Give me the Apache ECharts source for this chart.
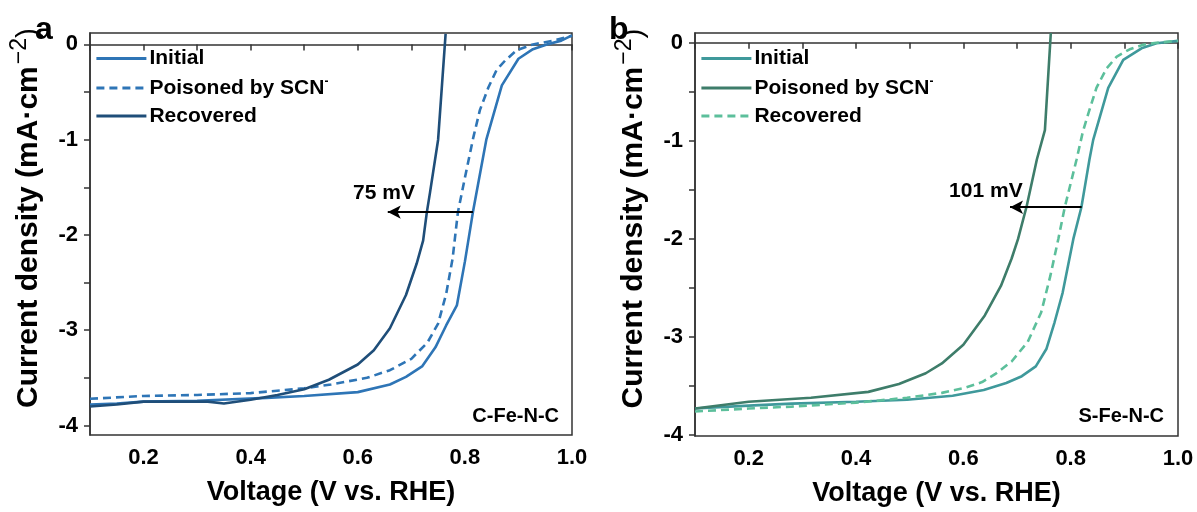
<!DOCTYPE html>
<html><head><meta charset="utf-8">
<script src="https://cdn.jsdelivr.net/npm/echarts@6/dist/echarts.min.js"></script>
<style>html,body{margin:0;padding:0;background:#fff}#c{width:1197px;height:512px}</style>
</head><body><div id="c"></div>
<script>
// ---------- DATA ----------
const initialA = [[0.1,-3.78],[0.15,-3.77],[0.2,-3.75],[0.3,-3.74],[0.43,-3.71],[0.5,-3.69],[0.6,-3.65],[0.66,-3.57],[0.69,-3.49],[0.72,-3.38],[0.745,-3.18],[0.765,-2.95],[0.785,-2.74],[0.8,-2.28],[0.815,-1.76],[0.84,-1.0],[0.869,-0.43],[0.9,-0.15],[0.927,-0.05],[0.953,0.0],[0.98,0.04],[1.0,0.095]];
const poisonedA = [[0.1,-3.72],[0.2,-3.69],[0.3,-3.68],[0.4,-3.66],[0.5,-3.61],[0.55,-3.57],[0.617,-3.5],[0.66,-3.42],[0.7,-3.3],[0.73,-3.13],[0.75,-2.93],[0.765,-2.62],[0.777,-2.25],[0.787,-1.76],[0.8,-1.4],[0.816,-0.97],[0.828,-0.69],[0.844,-0.45],[0.859,-0.27],[0.875,-0.17],[0.897,-0.06],[0.927,0.0],[0.965,0.04],[1.0,0.09]];
const recoveredA = [[0.1,-3.8],[0.15,-3.78],[0.2,-3.75],[0.25,-3.75],[0.32,-3.75],[0.35,-3.77],[0.4,-3.73],[0.45,-3.68],[0.5,-3.62],[0.546,-3.52],[0.6,-3.36],[0.63,-3.21],[0.66,-2.98],[0.69,-2.63],[0.71,-2.3],[0.722,-2.06],[0.729,-1.76],[0.735,-1.55],[0.75,-1.0],[0.764,0.11]];

const initialB = [[0.1,-3.73],[0.2,-3.7],[0.28,-3.68],[0.4,-3.66],[0.495,-3.64],[0.58,-3.6],[0.638,-3.54],[0.68,-3.47],[0.709,-3.4],[0.735,-3.3],[0.755,-3.12],[0.77,-2.85],[0.785,-2.55],[0.805,-2.0],[0.82,-1.677],[0.835,-1.19],[0.842,-0.99],[0.87,-0.46],[0.898,-0.175],[0.932,-0.056],[0.96,-0.005],[1.0,0.02]];
const poisonedB = [[0.1,-3.73],[0.2,-3.66],[0.316,-3.62],[0.423,-3.56],[0.48,-3.48],[0.53,-3.37],[0.56,-3.27],[0.6,-3.08],[0.64,-2.78],[0.67,-2.48],[0.69,-2.2],[0.702,-2.0],[0.718,-1.667],[0.737,-1.19],[0.752,-0.89],[0.763,0.1]];
const recoveredB = [[0.1,-3.76],[0.2,-3.73],[0.28,-3.71],[0.4,-3.67],[0.495,-3.62],[0.56,-3.57],[0.602,-3.52],[0.635,-3.46],[0.659,-3.38],[0.69,-3.25],[0.72,-3.05],[0.745,-2.75],[0.762,-2.38],[0.777,-2.0],[0.789,-1.677],[0.811,-1.19],[0.823,-0.9],[0.833,-0.72],[0.848,-0.46],[0.867,-0.26],[0.886,-0.14],[0.91,-0.066],[0.935,-0.02],[0.96,0.0],[1.0,0.02]];

const xTicks = [0.1,0.2,0.3,0.4,0.5,0.6,0.7,0.8,0.9,1.0];
const xLabels = [0.2,0.4,0.6,0.8,1.0];
const yTicks = [0,-0.5,-1,-1.5,-2,-2.5,-3,-3.5,-4];
const yLabels = [0,-1,-2,-3,-4];

const arrowA = [[0.815,-1.76],[0.656,-1.76]];
const arrowB = [[0.8205,-1.677],[0.687,-1.677]];
const noteA = {pos:[0.649,-1.56], text:'75 mV'};
const noteB = {pos:[0.642,-1.515], text:'101 mV'};

// ---------- STYLE ----------
const FONT = '"Liberation Sans", Arial, sans-serif';
const C = {initA:'#2e75b6', poisA:'#2e75b6', recA:'#1f4e79', initB:'#3f999b', poisB:'#3e7d6a', recB:'#5cbf9b'};

function xAxis(gi){
  return {type:'value', gridIndex:gi, min:0.1, max:1.0,
    name:'Voltage (V vs. RHE)', nameLocation:'middle', nameGap:44,
    nameTextStyle:{fontFamily:FONT, fontWeight:'bold', fontSize:27, color:'#000'},
    axisLine:{show:true, lineStyle:{color:'#333', width:1.5}},
    axisTick:{show:true, inside:false, length:6, customValues:xTicks, lineStyle:{color:'#333', width:1.5}},
    axisLabel:{customValues:xLabels, margin:12, fontFamily:FONT, fontWeight:'bold', fontSize:22, color:'#000',
      formatter:v=>Number(v).toFixed(1)},
    splitLine:{show:false}};
}
function yAxis(gi, mn, mx){
  return {type:'value', gridIndex:gi, min:mn, max:mx,
    name:'{a|Current density (mA·cm}{s|−2}{b|)}', nameLocation:'middle', nameGap:46, nameRotate:90,
    nameTextStyle:{padding:[0,0,0,32], rich:{
      a:{fontFamily:FONT, fontWeight:'bold', fontSize:30, color:'#000', verticalAlign:'bottom'},
      s:{fontFamily:FONT, fontWeight:'normal', fontSize:23, color:'#000', verticalAlign:'bottom', padding:[0,0,13,2]},
      b:{fontFamily:FONT, fontWeight:'normal', fontSize:30, color:'#000', verticalAlign:'bottom'}}},
    axisLine:{show:true, lineStyle:{color:'#333', width:1.5}},
    axisTick:{show:true, inside:false, length:6, customValues:yTicks, lineStyle:{color:'#333', width:1.5}},
    axisLabel:{customValues:yLabels, margin:12, fontFamily:FONT, fontWeight:'bold', fontSize:22, color:'#000'},
    splitLine:{show:false}};
}
function line(name, data, color, gi, dashed, extra){
  return Object.assign({type:'line', name:name, data:data, xAxisIndex:gi, yAxisIndex:gi,
    symbol:'none', showSymbol:false, clip:true, smooth:false,
    lineStyle:{color:color, width:2.6, type: dashed ? [8,5] : 'solid'},
    itemStyle:{color:color}, emphasis:{disabled:true}}, extra||{});
}
function notes(arrow, note){
  return {
    markLine:{silent:true, animation:false, symbol:['none','arrow'], symbolSize:12,
      lineStyle:{color:'#000', width:2, type:'solid'}, label:{show:false},
      data:[[{coord:arrow[0], symbol:'none'},{coord:arrow[1], symbol:'arrow', symbolSize:[10,13]}]]},
    markPoint:{silent:true, symbol:'circle', symbolSize:0, animation:false,
      label:{show:true, position:'inside', formatter:note.text, fontFamily:FONT, fontWeight:'bold', fontSize:21, color:'#000'},
      data:[{coord:note.pos}]}
  };
}
const legendRich = {
  t:{fontFamily:FONT, fontWeight:'bold', fontSize:21, color:'#000'},
  s:{fontFamily:FONT, fontWeight:'bold', fontSize:12, color:'#000', padding:[0,0,12,0]}
};
function legendFmt(n){
  const base = n.split('|')[0];
  if (base === 'Poisoned by SCN') return '{t|Poisoned by SCN}{s|-}';
  return '{t|' + base + '}';
}
function legend(left, names){
  return {left:left, top:43, orient:'vertical', itemWidth:50, itemHeight:14, itemGap:7,
    data:names.map(n=>({name:n})), formatter:legendFmt, selectedMode:false,
    itemStyle:{opacity:0}, lineStyle:{width:2.8},
    textStyle:{rich:legendRich, padding:[0,0,0,-2]}};
}

const option = {
  animation:false,
  backgroundColor:'#fff',
  title:[
    {text:'a', left:30, top:9, textStyle:{fontFamily:FONT, fontWeight:'bold', fontSize:32, color:'#000'}},
    {text:'b', left:604, top:9, textStyle:{fontFamily:FONT, fontWeight:'bold', fontSize:32, color:'#000'}},
    {text:'C-Fe-N-C', right:633, top:401, textStyle:{fontFamily:FONT, fontWeight:'bold', fontSize:20, color:'#000'}},
    {text:'S-Fe-N-C', right:28, top:401, textStyle:{fontFamily:FONT, fontWeight:'bold', fontSize:20, color:'#000'}}
  ],
  grid:[
    {left:90, top:33, width:482, height:402, show:true, borderColor:'#333', borderWidth:1.5, backgroundColor:'transparent'},
    {left:695, top:33, width:483, height:403, show:true, borderColor:'#333', borderWidth:1.5, backgroundColor:'transparent'}
  ],
  xAxis:[xAxis(0), xAxis(1)],
  yAxis:[yAxis(0,-4.1,0.12), yAxis(1,-4.01,0.1)],
  legend:[
    legend(90, ['Initial|a','Poisoned by SCN|a','Recovered|a']),
    legend(695, ['Initial|b','Poisoned by SCN|b','Recovered|b'])
  ],
  series:[
    line('Initial|a', initialA, C.initA, 0, false, notes(arrowA, noteA)),
    line('Poisoned by SCN|a', poisonedA, C.poisA, 0, true),
    line('Recovered|a', recoveredA, C.recA, 0, false),
    line('Initial|b', initialB, C.initB, 1, false, notes(arrowB, noteB)),
    line('Poisoned by SCN|b', poisonedB, C.poisB, 1, false),
    line('Recovered|b', recoveredB, C.recB, 1, true)
  ]
};
const chart = echarts.init(document.getElementById('c'), null, {renderer:'canvas', width:1197, height:512});
chart.setOption(option);
</script></body></html>
